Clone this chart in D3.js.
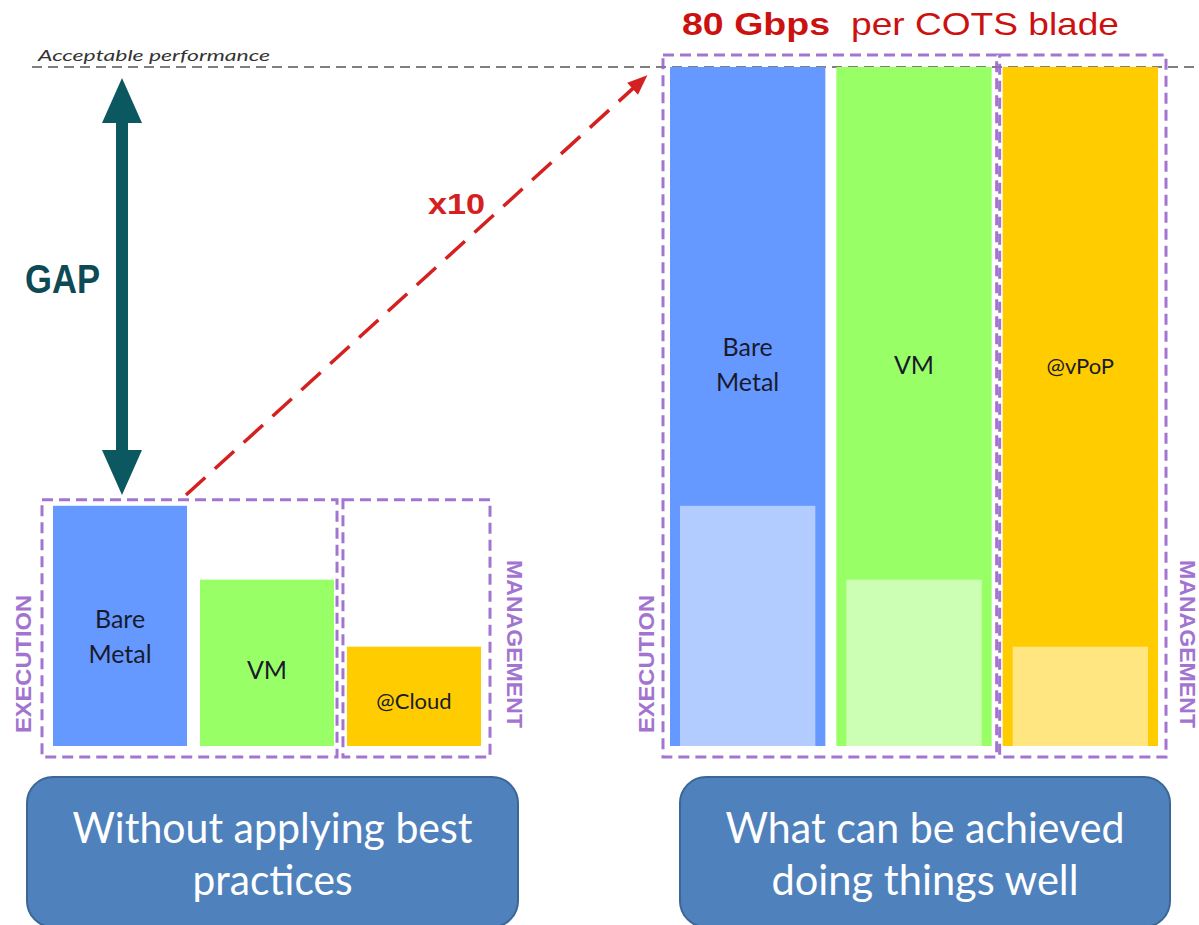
<!DOCTYPE html>
<html><head><meta charset="utf-8">
<script src="https://cdn.jsdelivr.net/npm/d3@7"></script>
<style>html,body{margin:0;padding:0;background:#fff;}svg{display:block;}</style>
</head><body>
<svg id="c" width="1199" height="925"></svg>
<script>
// ---- data ----
const leftCategories = ["Bare Metal", "VM", "@Cloud"];
const rightCategories = ["Bare Metal", "VM", "@vPoP"];
const leftValues = [28.3, 19.6, 11.7];      // Gbps-equivalent
const rightValues = [80, 80, 80];
const acceptableValue = 80;
const barColors = ["#6699ff", "#99ff66", "#ffcc00"];
const lightColors = ["#b3ccff", "#ccffb3", "#ffe680"];
const captions = [["Without applying best", "practices"], ["What can be achieved", "doing things well"]];

const svg = d3.select("#c");
const y = d3.scaleLinear().domain([0, 80]).range([746, 67]);
const xL = d3.scaleBand().domain(leftCategories).range([53, 481]).paddingInner(0.088);
const xR = d3.scaleBand().domain(rightCategories).range([670, 1158]).paddingInner(0.066);

const purple = "#9966cc";
const fit = (sel, len) => sel.attr("textLength", len).attr("lengthAdjust", "spacingAndGlyphs");

// acceptable performance line
svg.append("line").attr("x1", 32).attr("x2", 1199).attr("y1", y(acceptableValue)).attr("y2", y(acceptableValue))
  .attr("stroke", "#555").attr("stroke-width", 1.5).attr("stroke-dasharray", "10,6");
fit(svg.append("text").attr("x", 38).attr("y", 61).text("Acceptable performance")
  .attr("font-family", "Lato, sans-serif").attr("font-style", "italic").attr("font-size", 16).attr("fill", "#333"), 232);

// left bars
const gL = svg.append("g");
gL.selectAll("rect").data(leftCategories).join("rect")
  .attr("x", d => xL(d)).attr("width", xL.bandwidth())
  .attr("y", (d, i) => y(leftValues[i])).attr("height", (d, i) => y(0) - y(leftValues[i]))
  .attr("fill", (d, i) => barColors[i]);

// right bars
const gR = svg.append("g");
gR.selectAll("rect.full").data(rightCategories).join("rect").attr("class", "full")
  .attr("x", d => xR(d)).attr("width", xR.bandwidth())
  .attr("y", (d, i) => y(rightValues[i])).attr("height", (d, i) => y(0) - y(rightValues[i]))
  .attr("fill", (d, i) => barColors[i]);
const inset = 10;
gR.selectAll("rect.light").data(rightCategories).join("rect").attr("class", "light")
  .attr("x", d => xR(d) + inset).attr("width", xR.bandwidth() - 2 * inset)
  .attr("y", (d, i) => y(leftValues[i])).attr("height", (d, i) => y(0) - y(leftValues[i]))
  .attr("fill", (d, i) => lightColors[i]);

// bar labels
function labels(g, cats, x, vals) {
  cats.forEach((c, i) => {
    const cx = x(c) + x.bandwidth() / 2;
    const top = y(vals[i]);
    const cy = top + (y(0) - top) * (vals[i] > 50 ? 0.44 : 0.55);
    const lines = c === "Bare Metal" ? ["Bare", "Metal"] : [c];
    const t = g.append("text").attr("text-anchor", "middle").attr("font-family", "Lato, sans-serif")
      .attr("font-size", c.startsWith("@") ? 22 : 25).attr("fill", "#1a1a2e");
    lines.forEach((l, k) => {
      t.append("tspan").attr("x", cx).attr("y", cy + (k - (lines.length - 1) / 2) * 35 + 8).text(l);
    });
  });
}
labels(gL, leftCategories, xL, leftValues);
labels(gR, rightCategories, xR, rightValues);

// purple dashed boxes
function box(x0, x1, y0, y1) {
  svg.append("rect").attr("x", x0).attr("y", y0).attr("width", x1 - x0).attr("height", y1 - y0)
    .attr("fill", "none").attr("stroke", purple).attr("stroke-width", 3).attr("stroke-dasharray", "11,6").attr("opacity", 0.9);
}
const lTop = y(d3.max(leftValues)) - 6, bot = y(0) + 11;
box(xL(leftCategories[0]) - 11, xL(leftCategories[1]) + xL.bandwidth() + 3, lTop, bot);
box(xL(leftCategories[2]) - 4, xL(leftCategories[2]) + xL.bandwidth() + 9, lTop, bot);
const rTop = y(80) - 12;
box(xR(rightCategories[0]) - 7, xR(rightCategories[1]) + xR.bandwidth() + 5, rTop, bot);
box(xR(rightCategories[2]) - 3, xR(rightCategories[2]) + xR.bandwidth() + 8, rTop, bot);

// vertical labels
function vlabel(x, yc, txt, rot, len) {
  fit(svg.append("text").attr("transform", `translate(${x},${yc}) rotate(${rot})`).attr("text-anchor", "middle")
    .attr("dominant-baseline", "central").attr("font-family", "Liberation Sans, Arial, sans-serif").attr("font-size", 22)
    .attr("font-weight", "bold").attr("fill", purple).attr("opacity", 0.9).text(txt), len);
}
vlabel(23, 664, "EXECUTION", -90, 138);
vlabel(646, 664, "EXECUTION", -90, 138);
vlabel(514, 644, "MANAGEMENT", 90, 168);
vlabel(1187, 644, "MANAGEMENT", 90, 168);

// GAP double arrow
const teal = "#0b5860";
const ax = 122, aTop = 78, aBot = 495, hw = 20, hh = 45, sw = 6;
svg.append("path").attr("fill", teal).attr("d",
  `M${ax},${aTop} L${ax + hw},${aTop + hh} L${ax + sw},${aTop + hh} L${ax + sw},${aBot - hh} L${ax + hw},${aBot - hh} L${ax},${aBot} L${ax - hw},${aBot - hh} L${ax - sw},${aBot - hh} L${ax - sw},${aTop + hh} L${ax - hw},${aTop + hh} Z`);
fit(svg.append("text").attr("x", 25).attr("y", 293).attr("font-family", "Liberation Sans, Arial, sans-serif")
  .attr("font-weight", "bold").attr("font-size", 40).attr("fill", "#0d4a55").text("GAP"), 75);

// red dashed x10 arrow
const red = "#d42020";
const sx = 186, sy = 495, ex = 640, ey = 82;
svg.append("line").attr("x1", sx).attr("y1", sy).attr("x2", ex).attr("y2", ey)
  .attr("stroke", red).attr("stroke-width", 3.5).attr("stroke-dasharray", "26,13");
const ang = Math.atan2(ey - sy, ex - sx);
const tipx = ex + 10 * Math.cos(ang), tipy = ey + 10 * Math.sin(ang);
const L = 20, W = 8;
const bx = tipx - L * Math.cos(ang), by = tipy - L * Math.sin(ang);
svg.append("path").attr("fill", red).attr("d",
  `M${tipx},${tipy} L${bx + W * Math.sin(ang)},${by - W * Math.cos(ang)} L${bx - W * Math.sin(ang)},${by + W * Math.cos(ang)} Z`);
fit(svg.append("text").attr("x", 428).attr("y", 214).attr("font-family", "Liberation Sans, Arial, sans-serif")
  .attr("font-weight", "bold").attr("font-size", 30).attr("fill", red).text("x10"), 57);

// title
fit(svg.append("text").attr("x", 682).attr("y", 35).attr("font-family", "Liberation Sans, Arial, sans-serif")
  .attr("font-size", 32).attr("font-weight", "bold").attr("fill", "#cc1111").text("80 Gbps"), 148);
fit(svg.append("text").attr("x", 851).attr("y", 35).attr("font-family", "Liberation Sans, Arial, sans-serif")
  .attr("font-size", 32).attr("fill", "#cc1111").text("per COTS blade"), 268);

// caption boxes
const capX = [[27, 518], [680, 1170]];
const capLens = [[400, 160], [399, 307]];
captions.forEach((lines, i) => {
  svg.append("rect").attr("x", capX[i][0]).attr("y", 777).attr("width", capX[i][1] - capX[i][0]).attr("height", 150)
    .attr("rx", 26).attr("fill", "#4f81bd").attr("stroke", "#3b6796").attr("stroke-width", 2);
  const cx = (capX[i][0] + capX[i][1]) / 2;
  lines.forEach((l, k) => {
    fit(svg.append("text").attr("x", cx).attr("y", 843 + k * 52).attr("text-anchor", "middle")
      .attr("font-family", "Lato, sans-serif").attr("font-size", 42).attr("fill", "#fff").text(l), capLens[i][k]);
  });
});
</script>
</body></html>
